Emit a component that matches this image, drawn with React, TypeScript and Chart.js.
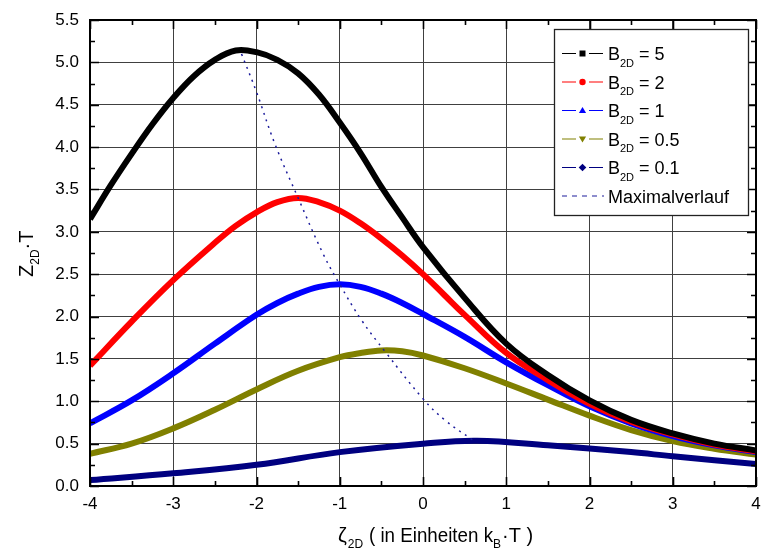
import React, { useEffect, useRef } from "react";
import { Chart, registerables } from "chart.js";

Chart.register(...registerables);

// ---- data ----
const B5_ZETA = [-4, -3.75, -3.5, -3.25, -3, -2.75, -2.5, -2.25, -2, -1.75, -1.5, -1.25, -1, -0.75, -0.5, -0.25, 0, 0.5, 1, 1.5, 2, 2.5, 3, 3.5, 4];
const B5_Z = [3.15, 3.55, 3.92, 4.27, 4.58, 4.84, 5.03, 5.14, 5.12, 5.03, 4.87, 4.62, 4.29, 3.93, 3.53, 3.17, 2.82, 2.22, 1.68, 1.31, 1.01, 0.78, 0.62, 0.5, 0.42];

const B2_ZETA = [-4, -3.5, -3, -2.5, -2.25, -2, -1.75, -1.5, -1.25, -1, -0.75, -0.5, -0.25, 0, 0.25, 0.5, 1, 1.5, 2, 2.5, 3, 3.5, 4];
const B2_Z = [1.42, 1.94, 2.43, 2.87, 3.07, 3.23, 3.35, 3.4, 3.35, 3.25, 3.1, 2.92, 2.72, 2.5, 2.26, 2.02, 1.57, 1.25, 0.97, 0.76, 0.61, 0.49, 0.41];

const B1_ZETA = [-4, -3.5, -3, -2.5, -2, -1.75, -1.5, -1.25, -1, -0.75, -0.5, -0.25, 0, 0.5, 1, 1.5, 2, 2.5, 3, 3.5, 4];
const B1_Z = [0.74, 1.01, 1.33, 1.68, 2.02, 2.16, 2.27, 2.35, 2.38, 2.35, 2.27, 2.16, 2.03, 1.76, 1.46, 1.19, 0.94, 0.74, 0.59, 0.48, 0.4];

const B05_ZETA = [-4, -3.5, -3, -2.5, -2, -1.5, -1, -0.75, -0.5, -0.25, 0, 0.5, 1, 1.5, 2, 2.5, 3, 3.5, 4];
const B05_Z = [0.38, 0.5, 0.68, 0.9, 1.14, 1.36, 1.52, 1.57, 1.6, 1.59, 1.54, 1.39, 1.21, 1.02, 0.83, 0.66, 0.53, 0.44, 0.37];

const B01_ZETA = [-4, -3, -2, -1, 0, 0.65, 1.5, 2.5, 3, 4];
const B01_Z = [0.07, 0.15, 0.25, 0.4, 0.5, 0.535, 0.48, 0.4, 0.35, 0.26];

const MAX_ZETA = [-2.18, -2.0, -1.78, -1.5, -1.2, -1.0, -0.74, -0.45, 0.0, 0.26, 0.6];
const MAX_Z = [5.1, 4.65, 4.04, 3.4, 2.74, 2.38, 1.96, 1.58, 1.03, 0.78, 0.54];

const X_MIN = -4;
const X_MAX = 4;
const Y_MIN = 0;
const Y_MAX = 5.5;

const LEGEND_LABELS = ["5", "2", "1", "0.5", "0.1"];
const LEGEND_COLORS = ["#000000", "#ff0000", "#0000ff", "#808000", "#000080"];
const LEGEND_MARKERS = ["square", "circle", "triangle", "triangleDown", "diamond"];
const MAX_LABEL = "Maximalverlauf";
const MAX_COLOR = "#1c1c9c";

const FONT = '"Liberation Sans", Arial, Helvetica, sans-serif';

function pts(xs: number[], ys: number[]) {
  return xs.map((x, i) => ({ x, y: ys[i] }));
}

function drawMarker(ctx: CanvasRenderingContext2D, kind: string, x: number, y: number, color: string) {
  ctx.save();
  ctx.fillStyle = color;
  ctx.beginPath();
  const r = 3;
  if (kind === "square") {
    ctx.rect(x - r, y - r, 2 * r, 2 * r);
  } else if (kind === "circle") {
    ctx.arc(x, y, 3.2, 0, Math.PI * 2);
  } else if (kind === "triangle") {
    ctx.moveTo(x, y - 3.6);
    ctx.lineTo(x + 3.6, y + 2.6);
    ctx.lineTo(x - 3.6, y + 2.6);
    ctx.closePath();
  } else if (kind === "triangleDown") {
    ctx.moveTo(x, y + 3.6);
    ctx.lineTo(x + 3.6, y - 2.6);
    ctx.lineTo(x - 3.6, y - 2.6);
    ctx.closePath();
  } else {
    ctx.moveTo(x, y - 3.8);
    ctx.lineTo(x + 3.8, y);
    ctx.lineTo(x, y + 3.8);
    ctx.lineTo(x - 3.8, y);
    ctx.closePath();
  }
  ctx.fill();
  ctx.restore();
}

const framePlugin = {
  id: "frame",
  afterDatasetsDraw(chart: any) {
    const { ctx, chartArea, scales } = chart;
    const { left, right, top, bottom } = chartArea;
    const xs = scales.x;
    const ys = scales.y;
    ctx.save();
    ctx.strokeStyle = "#000";
    ctx.lineWidth = 2;
    ctx.strokeRect(left, top, right - left, bottom - top);
    ctx.lineWidth = 1.6;
    ctx.beginPath();
    for (let k = 0; k <= (X_MAX - X_MIN) * 2; k++) {
      const v = X_MIN + k * 0.5;
      const px = Math.round(xs.getPixelForValue(v)) + 0.5;
      const len = k % 2 === 0 ? 9 : 5;
      ctx.moveTo(px, bottom);
      ctx.lineTo(px, bottom - len);
      ctx.moveTo(px, top);
      ctx.lineTo(px, top + len);
    }
    for (let k = 0; k <= (Y_MAX - Y_MIN) * 4; k++) {
      const v = Y_MIN + k * 0.25;
      const py = Math.round(ys.getPixelForValue(v)) + 0.5;
      const len = k % 2 === 0 ? 9 : 5;
      ctx.moveTo(left, py);
      ctx.lineTo(left + len, py);
      ctx.moveTo(right, py);
      ctx.lineTo(right - len, py);
    }
    ctx.stroke();
    ctx.restore();
  },
  afterDraw(chart: any) {
    const { ctx } = chart;
    ctx.save();
    ctx.fillStyle = "#000";
    ctx.textBaseline = "alphabetic";
    ctx.textAlign = "left";

    // ---- X axis title ----
    let x = 338;
    const by = 542;
    ctx.font = `20px ${FONT}`;
    ctx.fillText("\u03b6", x, by);
    x += ctx.measureText("\u03b6").width + 1;
    ctx.font = `12px ${FONT}`;
    ctx.fillText("2D", x, by + 6);
    x = 369;
    ctx.font = `20px ${FONT}`;
    const part1 = "( in Einheiten k";
    ctx.save();
    const w1 = ctx.measureText(part1).width;
    const target1 = 124;
    ctx.translate(x, by);
    ctx.scale(target1 / w1, 1);
    ctx.fillText(part1, 0, 0);
    ctx.restore();
    x += target1;
    ctx.font = `12px ${FONT}`;
    ctx.fillText("B", x, by + 6);
    x += ctx.measureText("B").width + 1;
    ctx.font = `20px ${FONT}`;
    ctx.fillText("\u00b7T )", x, by);

    // ---- Y axis title ----
    ctx.save();
    ctx.translate(33, 277);
    ctx.rotate(-Math.PI / 2);
    let t = 0;
    ctx.font = `20px ${FONT}`;
    ctx.fillText("Z", t, 0);
    t += ctx.measureText("Z").width;
    ctx.font = `12px ${FONT}`;
    ctx.fillText("2D", t, 6);
    t += ctx.measureText("2D").width;
    ctx.font = `20px ${FONT}`;
    ctx.fillText("\u00b7T", t, 0);
    ctx.restore();

    // ---- Legend ----
    const lx = 554.5;
    const ly = 29.5;
    const lw = 194;
    const lh = 186;
    ctx.fillStyle = "#fff";
    ctx.fillRect(lx, ly, lw, lh);
    ctx.strokeStyle = "#222";
    ctx.lineWidth = 1.3;
    ctx.strokeRect(lx, ly, lw, lh);
    const rowY0 = 53.5;
    const rowStep = 28.5;
    for (let i = 0; i < LEGEND_LABELS.length; i++) {
      const ry = rowY0 + i * rowStep;
      const c = LEGEND_COLORS[i];
      ctx.strokeStyle = c;
      ctx.lineWidth = 1.2;
      ctx.beginPath();
      ctx.moveTo(562, ry);
      ctx.lineTo(576, ry);
      ctx.moveTo(589, ry);
      ctx.lineTo(603, ry);
      ctx.stroke();
      drawMarker(ctx, LEGEND_MARKERS[i], 582.5, ry, c);
      ctx.fillStyle = "#000";
      let tx = 608;
      ctx.font = `18px ${FONT}`;
      ctx.fillText("B", tx, ry + 6.5);
      tx += ctx.measureText("B").width;
      ctx.font = `11px ${FONT}`;
      ctx.fillText("2D", tx, ry + 13);
      tx += ctx.measureText("2D").width;
      ctx.font = `18px ${FONT}`;
      ctx.fillText(" = " + LEGEND_LABELS[i], tx, ry + 6.5);
    }
    const my = rowY0 + LEGEND_LABELS.length * rowStep;
    ctx.strokeStyle = MAX_COLOR;
    ctx.lineWidth = 1.2;
    ctx.setLineDash([5, 5]);
    ctx.beginPath();
    ctx.moveTo(562, my);
    ctx.lineTo(604, my);
    ctx.stroke();
    ctx.setLineDash([]);
    ctx.fillStyle = "#000";
    ctx.font = `18px ${FONT}`;
    ctx.fillText(MAX_LABEL, 608, my + 6.5);
    ctx.restore();
  },
};

export default function App() {
  const ref = useRef<HTMLCanvasElement | null>(null);

  useEffect(() => {
    document.body.style.margin = "0";
    const canvas = ref.current;
    if (!canvas) return;
    const curve = (xs: number[], ys: number[], color: string) => ({
      data: pts(xs, ys),
      showLine: true,
      borderColor: color,
      backgroundColor: color,
      borderWidth: 6,
      pointRadius: 0,
      tension: 0.4,
      fill: false,
    });
    const chart = new Chart(canvas, {
      type: "scatter",
      data: {
        datasets: [
          { ...curve(B5_ZETA, B5_Z, LEGEND_COLORS[0]), order: 1 },
          { ...curve(B2_ZETA, B2_Z, LEGEND_COLORS[1]), order: 2 },
          { ...curve(B1_ZETA, B1_Z, LEGEND_COLORS[2]), order: 3 },
          { ...curve(B05_ZETA, B05_Z, LEGEND_COLORS[3]), order: 4 },
          { ...curve(B01_ZETA, B01_Z, LEGEND_COLORS[4]), order: 5 },
          {
            data: pts(MAX_ZETA, MAX_Z),
            showLine: true,
            borderColor: MAX_COLOR,
            borderWidth: 1.5,
            borderDash: [2, 5],
            pointRadius: 0,
            tension: 0.4,
            fill: false,
            order: 0,
          },
        ],
      },
      options: {
        responsive: false,
        animation: false,
        devicePixelRatio: 1,
        layout: { padding: { top: 20, right: 6, left: 0, bottom: 0 } },
        plugins: {
          legend: { display: false },
          tooltip: { enabled: false },
          title: { display: false },
        },
        scales: {
          x: {
            type: "linear",
            min: X_MIN,
            max: X_MAX,
            afterFit: (s: any) => {
              s.height = 68;
              s.paddingLeft = 0;
              s.paddingRight = 0;
            },
            ticks: {
              stepSize: 1,
              color: "#000",
              font: { family: FONT, size: 17 },
              padding: 8,
              maxRotation: 0,
              callback: (v: any) => String(Math.round(Number(v))),
            },
            grid: { color: "#404040", lineWidth: 1, drawTicks: false },
            border: { display: false },
          },
          y: {
            type: "linear",
            min: Y_MIN,
            max: Y_MAX,
            afterFit: (s: any) => {
              s.width = 90;
              s.paddingTop = 0;
              s.paddingBottom = 0;
            },
            ticks: {
              stepSize: 0.5,
              color: "#000",
              font: { family: FONT, size: 17 },
              padding: 11,
              callback: (v: any) => Number(v).toFixed(1),
            },
            grid: { color: "#404040", lineWidth: 1, drawTicks: false },
            border: { display: false },
          },
        },
      },
      plugins: [framePlugin],
    });
    return () => chart.destroy();
  }, []);

  return (
    <div style={{ width: 762, height: 554 }}>
      <canvas ref={ref} width={762} height={554} style={{ display: "block" }} />
    </div>
  );
}
